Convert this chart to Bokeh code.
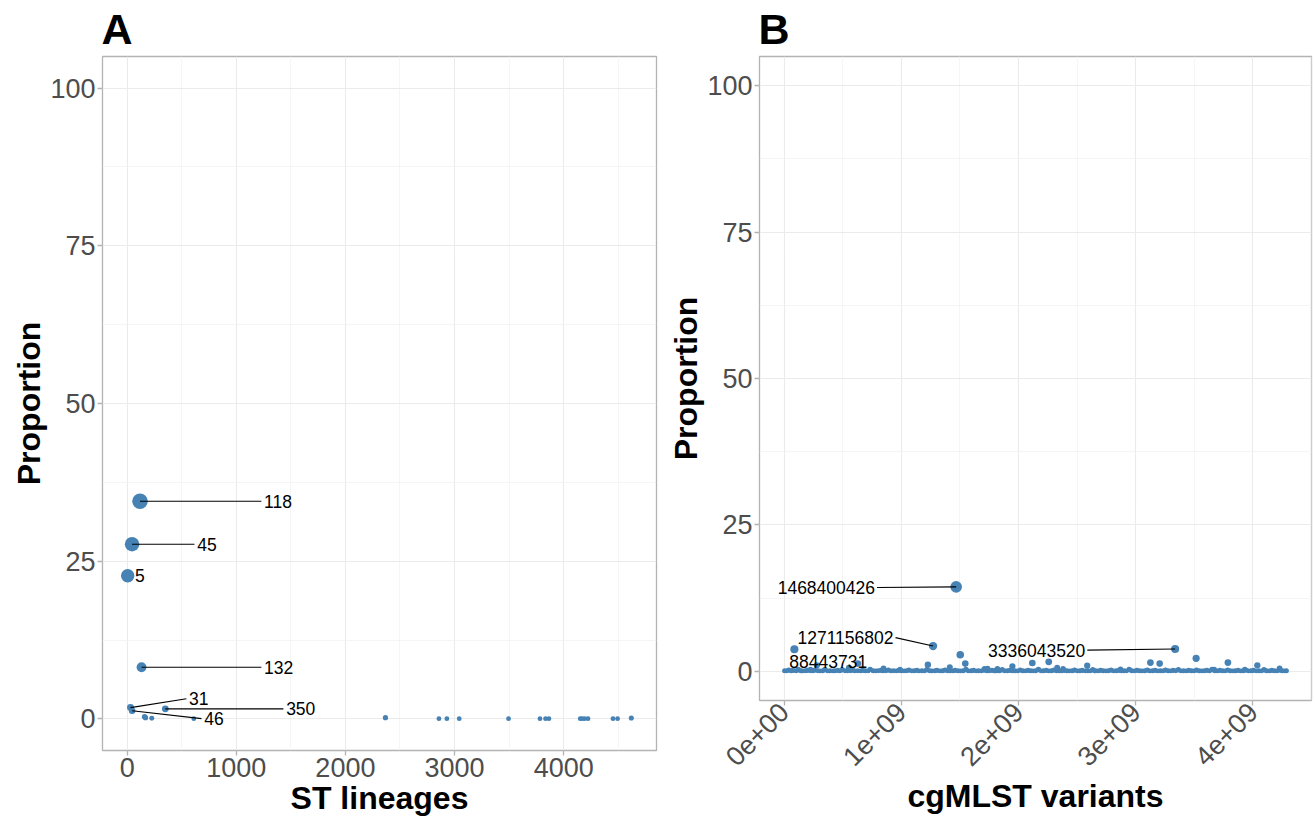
import math
from bokeh.plotting import figure
from bokeh.models import FixedTicker, Range1d, ColumnDataSource
from bokeh.core.properties import value
from bokeh.embed import file_html
from bokeh.resources import INLINE

FONT = "Liberation Sans"
BLUE = "#4682B4"

# ---------------- Panel A data: ST lineages ----------------
st_x = [118, 45, 5, 132, 31, 46, 350, 160, 168, 226, 611, 2367, 2857, 2930,
        3043, 3495, 3783, 3834, 3865, 4152, 4170, 4192, 4223, 4452, 4494, 4620]
st_y = [34.5, 27.7, 22.7, 8.2, 1.8, 1.3, 1.6, 0.35, 0.2, 0.1, 0.05, 0.2, 0.05, 0.05,
        0.05, 0.05, 0.05, 0.05, 0.05, 0.05, 0.05, 0.05, 0.05, 0.05, 0.05, 0.15]

# labels (text left edge / middle, in data units)
lab_a = ["118", "45", "5", "132", "31", "350", "46"]
lab_a_pt_x = [118, 45, 5, 132, 31, 350, 46]
lab_a_pt_y = [34.5, 27.7, 22.7, 8.2, 1.8, 1.6, 1.3]
lab_a_x = [1255, 642, 73, 1255, 568, 1457, 706]
lab_a_y = [34.5, 27.7, 22.7, 8.2, 3.2, 1.6, 0.05]
lab_a_seg = [True, True, False, True, True, True, True]

a_xticks = [0, 1000, 2000, 3000, 4000]
a_xminor = [500, 1500, 2500, 3500, 4500]
y_ticks = [0, 25, 50, 75, 100]
y_minor = [12.5, 37.5, 62.5, 87.5]

# ---------------- Panel B data: cgMLST variants (x in millions) ----------------
b_mid_x = [88.4, 1271.2, 1468.4, 3336.0, 1503, 1227, 1546, 1414, 280, 630, 2118, 2258,
           2586, 3125, 3204, 3515, 3786, 4037, 1948, 849, 553, 990, 4227, 226, 1710,
           1736, 1820, 2330, 2380, 2870, 3670, 3930]
b_mid_y = [3.76, 4.3, 14.4, 3.8, 2.8, 1.1, 1.3, 0.7, 1.0, 1.3, 1.4, 1.6,
           0.95, 1.47, 1.3, 2.2, 1.47, 1.0, 0.85, 0.5, 0.6, 0.3, 0.5, 0.3, 0.4,
           0.45, 0.4, 0.6, 0.4, 0.35, 0.3, 0.3]

b_base_x = [5, 22, 40, 61, 78, 103, 121, 139, 162, 184,
            201, 225, 247, 263, 288, 306, 330, 349, 371, 392,
            415, 433, 458, 477, 496, 520, 541, 566, 585, 604,
            628, 652, 671, 693, 717, 735, 760, 781, 803, 826,
            844, 869, 890, 912, 933, 957, 978, 1001, 1023, 1046,
            1065, 1089, 1110, 1133, 1151, 1176, 1198, 1219, 1244, 1262,
            1287, 1305, 1330, 1352, 1373, 1396, 1418, 1441, 1459, 1484,
            1507, 1528, 1552, 1571, 1596, 1617, 1639, 1660, 1684, 1705,
            1729, 1748, 1773, 1794, 1816, 1838, 1861, 1882, 1904, 1927,
            1949, 1970, 1993, 2015, 2037, 2060, 2081, 2104, 2126, 2147,
            2170, 2192, 2213, 2237, 2258, 2280, 2302, 2325, 2347, 2368,
            2391, 2413, 2434, 2458, 2479, 2502, 2524, 2545, 2569, 2590,
            2612, 2634, 2657, 2678, 2700, 2723, 2745, 2766, 2789, 2811,
            2833, 2856, 2877, 2900, 2921, 2944, 2966, 2988, 3010, 3033,
            3054, 3077, 3099, 3120, 3143, 3165, 3187, 3209, 3232, 3253,
            3276, 3298, 3319, 3342, 3364, 3386, 3408, 3431, 3452, 3475,
            3497, 3518, 3541, 3563, 3585, 3607, 3630, 3651, 3674, 3696,
            3717, 3740, 3762, 3784, 3806, 3829, 3850, 3873, 3895, 3916,
            3939, 3961, 3983, 4005, 4028, 4049, 4072, 4094, 4115, 4138,
            4160, 4182, 4204, 4227, 4248, 4270, 4285, 150, 1800, 2650]
b_base_y = [0.1, 0.05, 0.2, 0.1, 0.15, 0.05, 0.3, 0.1, 0.05, 0.1,
            0.15, 0.1, 0.05, 0.2, 0.1, 0.05, 0.1, 0.3, 0.05, 0.1,
            0.05, 0.1, 0.15, 0.05, 0.25, 0.1, 0.05, 0.1, 0.2, 0.05,
            0.1, 0.05, 0.15, 0.1, 0.05, 0.3, 0.1, 0.05, 0.1, 0.15,
            0.05, 0.1, 0.2, 0.05, 0.1, 0.05, 0.15, 0.1, 0.05, 0.1,
            0.2, 0.05, 0.1, 0.15, 0.05, 0.1, 0.05, 0.25, 0.1, 0.05,
            0.1, 0.15, 0.05, 0.1, 0.2, 0.05, 0.1, 0.05, 0.15, 0.1,
            0.05, 0.1, 0.3, 0.05, 0.1, 0.15, 0.05, 0.1, 0.05, 0.2,
            0.1, 0.05, 0.15, 0.1, 0.05, 0.1, 0.25, 0.05, 0.1, 0.15,
            0.05, 0.1, 0.05, 0.2, 0.1, 0.05, 0.15, 0.1, 0.05, 0.1,
            0.3, 0.05, 0.1, 0.15, 0.05, 0.1, 0.2, 0.05, 0.1, 0.05,
            0.15, 0.1, 0.05, 0.1, 0.2, 0.05, 0.1, 0.15, 0.05, 0.1,
            0.05, 0.25, 0.1, 0.05, 0.15, 0.1, 0.05, 0.1, 0.2, 0.05,
            0.1, 0.15, 0.05, 0.1, 0.05, 0.3, 0.1, 0.05, 0.15, 0.1,
            0.05, 0.1, 0.2, 0.05, 0.1, 0.15, 0.05, 0.1, 0.05, 0.2,
            0.1, 0.05, 0.15, 0.1, 0.25, 0.05, 0.1, 0.05, 0.15, 0.1,
            0.05, 0.2, 0.1, 0.05, 0.1, 0.15, 0.05, 0.3, 0.1, 0.05,
            0.15, 0.1, 0.05, 0.2, 0.1, 0.05, 0.1, 0.15, 0.05, 0.1,
            0.2, 0.05, 0.1, 0.15, 0.05, 0.1, 0.05, 0.25, 0.1, 0.05,
            0.15, 0.1, 0.05, 0.2, 0.1, 0.05, 0.1, 0.05, 0.1, 0.05]

lab_b = ["1468400426", "1271156802", "3336043520", "88443731"]
lab_b_pt_x = [1468.400426, 1271.156802, 3336.043520, 88.443731]
lab_b_pt_y = [14.4, 4.3, 3.8, 3.76]
lab_b_x = [776, 934, 2570, 709]      # right edge of text (millions)
lab_b_y = [14.3, 5.74, 3.6, 1.6]
lab_b_seg = [True, True, True, False]

b_xticks = [0, 1000000000, 2000000000, 3000000000, 4000000000]
b_xtick_labels = ["0e+00", "1e+09", "2e+09", "3e+09", "4e+09"]
b_xminor = [500000000, 1500000000, 2500000000, 3500000000, 4500000000]

panel_tags = ["A", "B"]


def dot_size(vals):
    # ggplot-like area scaling -> diameter in screen pixels
    return [2 * (2.2 + 0.95 * math.sqrt(v)) for v in vals]


def style(p):
    p.outline_line_color = "#B3B3B3"
    p.outline_line_width = 1.3
    p.background_fill_color = "white"
    p.border_fill_color = "white"
    for ax in p.axis:
        ax.axis_line_color = None
        ax.major_tick_line_color = "#B3B3B3"
        ax.major_tick_line_width = 1.3
        ax.major_tick_out = 5
        ax.major_tick_in = 0
        ax.minor_tick_line_color = None
        ax.major_label_text_font = FONT
        ax.major_label_text_font_size = "27px"
        ax.major_label_text_color = "#4D4D4D"
        ax.axis_label_text_font = FONT
        ax.axis_label_text_font_size = "32px"
        ax.axis_label_text_font_style = "bold"
        ax.axis_label_text_color = "black"
        ax.major_label_standoff = 2
        ax.axis_label_standoff = 0
    for g in p.grid:
        g.grid_line_color = "#EBEBEB"
        g.grid_line_width = 1.1
        g.minor_grid_line_color = "#F3F3F3"
        g.minor_grid_line_width = 0.8
    p.title.text_font = FONT
    p.title.text_font_size = "43px"
    p.title.text_font_style = "bold"
    p.title.text_color = "black"
    p.title.align = "left"
    p.title.vertical_align = "top"
    p.title.standoff = 4
    p.title.offset = -1


# ---------------- Panel A ----------------
xa0, xa1 = min(st_x), max(st_x)
pad_a = 0.05 * (xa1 - xa0)
pA = figure(width=665, height=818, title=panel_tags[0], output_backend="svg",
            toolbar_location=None,
            x_range=Range1d(xa0 - pad_a, xa1 + pad_a), y_range=Range1d(-5, 105),
            min_border_left=102, min_border_right=9, min_border_top=56, min_border_bottom=67)
pA.xaxis.ticker = FixedTicker(ticks=a_xticks, minor_ticks=a_xminor)
pA.yaxis.ticker = FixedTicker(ticks=y_ticks, minor_ticks=y_minor)
pA.xaxis.axis_label = "ST lineages"
pA.yaxis.axis_label = "Proportion"
style(pA)

srcA = ColumnDataSource(dict(x=st_x, y=st_y, s=dot_size(st_y)))
pA.scatter("x", "y", size="s", source=srcA, fill_color=BLUE, line_color=None)

seg_gap_a = 25
segA = ColumnDataSource(dict(
    x0=[px for px, f in zip(lab_a_pt_x, lab_a_seg) if f],
    y0=[py for py, f in zip(lab_a_pt_y, lab_a_seg) if f],
    x1=[lx - seg_gap_a for lx, f in zip(lab_a_x, lab_a_seg) if f],
    y1=[ly for ly, f in zip(lab_a_y, lab_a_seg) if f]))
pA.segment("x0", "y0", "x1", "y1", source=segA, line_color="black", line_width=1.1)
pA.text(x=lab_a_x, y=lab_a_y, text=lab_a, text_align="left", text_baseline="middle",
        text_font=value(FONT), text_font_size="17.5px", text_color="black")

# ---------------- Panel B ----------------
bx = [v * 1e6 for v in b_base_x + b_mid_x]
by = b_base_y + b_mid_y
xb0, xb1 = min(bx), max(bx)
pad_b = 0.05 * (xb1 - xb0)
pB = figure(width=650, height=818, title=panel_tags[1], output_backend="svg",
            toolbar_location=None,
            x_range=Range1d(xb0 - pad_b, xb1 + pad_b), y_range=Range1d(-5, 105),
            min_border_left=92, min_border_right=4, min_border_top=56, min_border_bottom=118)
pB.xaxis.ticker = FixedTicker(ticks=b_xticks, minor_ticks=b_xminor)
pB.xaxis.major_label_overrides = {t: l for t, l in zip(b_xticks, b_xtick_labels)}
pB.xaxis.major_label_orientation = math.pi / 4
pB.yaxis.ticker = FixedTicker(ticks=y_ticks, minor_ticks=y_minor)
pB.xaxis.axis_label = "cgMLST variants"
pB.yaxis.axis_label = "Proportion"
style(pB)

srcB = ColumnDataSource(dict(x=bx, y=by, s=dot_size(by)))
pB.scatter("x", "y", size="s", source=srcB, fill_color=BLUE, line_color=None)

seg_gap_b = 17
segB = ColumnDataSource(dict(
    x0=[px * 1e6 for px, f in zip(lab_b_pt_x, lab_b_seg) if f],
    y0=[py for py, f in zip(lab_b_pt_y, lab_b_seg) if f],
    x1=[(lx + seg_gap_b) * 1e6 for lx, f in zip(lab_b_x, lab_b_seg) if f],
    y1=[ly for ly, f in zip(lab_b_y, lab_b_seg) if f]))
pB.segment("x0", "y0", "x1", "y1", source=segB, line_color="black", line_width=1.1)
pB.text(x=[v * 1e6 for v in lab_b_x], y=lab_b_y, text=lab_b, text_align="right",
        text_baseline="middle", text_font=value(FONT), text_font_size="17.5px",
        text_color="black")

# Two independent roots placed side by side (no cross-plot frame alignment)
template = """
{% block postamble %}
<style>
  html, body { margin: 0; padding: 0; }
  body { display: flex !important; flex-direction: row; flex-wrap: nowrap;
         align-items: flex-start; }
</style>
{% endblock %}
"""
open("out.html", "w").write(file_html([pA, pB], INLINE, template=template))
